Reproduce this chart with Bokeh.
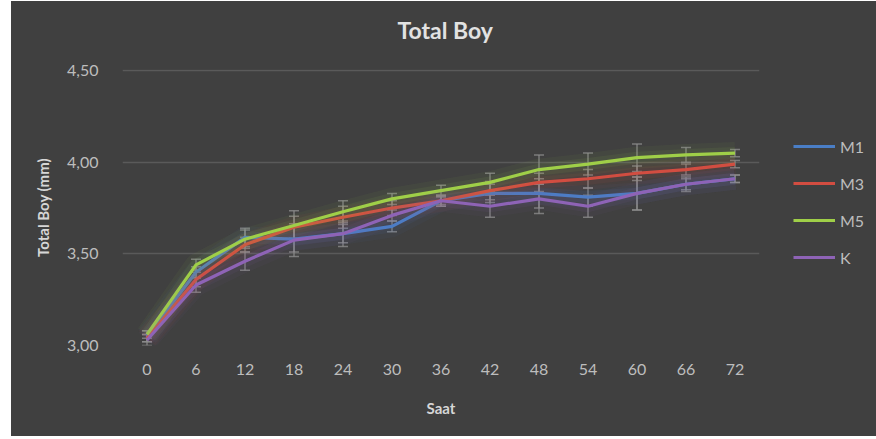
from bokeh.plotting import figure
from bokeh.models import (FactorRange, Range1d, ColumnDataSource, Whisker, TeeHead,
                          Legend, LegendItem, FixedTicker, CustomJSTickFormatter, Title)
from bokeh.embed import file_html
from bokeh.resources import INLINE

hours = ["0", "6", "12", "18", "24", "30", "36", "42", "48", "54", "60", "66", "72"]
series_names = ["M1", "M3", "M5", "K"]
m1 = [3.05, 3.40, 3.59, 3.58, 3.61, 3.65, 3.79, 3.83, 3.83, 3.81, 3.83, 3.88, 3.91]
m3 = [3.04, 3.36, 3.55, 3.645, 3.70, 3.75, 3.79, 3.845, 3.89, 3.91, 3.94, 3.96, 3.99]
m5 = [3.06, 3.44, 3.58, 3.655, 3.73, 3.80, 3.845, 3.89, 3.96, 3.99, 4.025, 4.04, 4.05]
k = [3.03, 3.33, 3.46, 3.575, 3.61, 3.71, 3.79, 3.76, 3.80, 3.76, 3.83, 3.88, 3.91]
m1_err = [0.03, 0.03, 0.05, 0.07, 0.05, 0.03, 0.03, 0.05, 0.08, 0.05, 0.09, 0.03, 0.02]
m3_err = [0.02, 0.04, 0.04, 0.06, 0.06, 0.04, 0.02, 0.05, 0.05, 0.05, 0.04, 0.03, 0.02]
m5_err = [0.02, 0.03, 0.05, 0.08, 0.06, 0.03, 0.03, 0.05, 0.08, 0.06, 0.075, 0.04, 0.02]
k_err = [0.03, 0.04, 0.05, 0.09, 0.07, 0.03, 0.03, 0.06, 0.08, 0.06, 0.09, 0.04, 0.02]
y_ticks = [3.0, 3.5, 4.0, 4.5]

values = [m1, m3, m5, k]
errors = [m1_err, m3_err, m5_err, k_err]
colors = ["#4a7ec6", "#d24d41", "#9fcf48", "#8e63b6"]

BG = "#404040"
FONT = "Lato"

p = figure(frame_width=637, frame_height=276,
           x_range=FactorRange(factors=hours, range_padding=0),
           y_range=Range1d(3.0, 4.506), output_backend="svg", toolbar_location=None,
           background_fill_color=None, border_fill_color=None, outline_line_color=None,
           min_border_left=111, min_border_right=117, min_border_top=68, min_border_bottom=91)
p.margin = (1, 0, 0, 11)
p.styles = {"background-color": BG}

spacer = Title(text=" ", text_font=FONT, text_font_size="12px", standoff=4)
p.add_layout(spacer, "above")
title = Title(text="Total Boy", align="left", text_font=FONT, text_font_size="23px",
              text_font_style="bold", text_color="#e2e2e2", offset=275, standoff=10)
p.add_layout(title, "above")

p.xaxis.axis_label = "Saat"
p.yaxis.axis_label = "Total Boy (mm)"
for ax in (p.xaxis[0], p.yaxis[0]):
    ax.axis_line_color = None
    ax.major_tick_line_color = None
    ax.minor_tick_line_color = None
    ax.major_label_text_font = FONT
    ax.major_label_text_font_size = "16px"
    ax.major_label_text_color = "#bdbdbd"
    ax.axis_label_text_font = FONT
    ax.axis_label_text_font_size = "15px"
    ax.axis_label_text_font_style = "bold"
    ax.axis_label_text_color = "#d6d6d6"
p.xaxis.major_label_standoff = 12
p.xaxis.axis_label_standoff = 21
p.yaxis.major_label_standoff = 18
p.yaxis.axis_label_standoff = 12
p.yaxis.ticker = FixedTicker(ticks=y_ticks)
p.yaxis.formatter = CustomJSTickFormatter(code="return tick.toFixed(2).replace('.', ',');")

p.xgrid.grid_line_color = None
p.ygrid.ticker = FixedTicker(ticks=[t for t in y_ticks if t > y_ticks[0]])
p.ygrid.grid_line_color = "#5a5a5a"
p.ygrid.grid_line_width = 1.5

items = []
for name, vals, errs, col in zip(series_names, values, errors, colors):
    src = ColumnDataSource(dict(x=hours, y=vals,
                                upper=[v + e for v, e in zip(vals, errs)],
                                lower=[v - e for v, e in zip(vals, errs)]))
    p.line("x", "y", source=src, line_color=col, line_width=22, line_alpha=0.05)
    p.line("x", "y", source=src, line_color=col, line_width=12, line_alpha=0.08)
    r = p.line("x", "y", source=src, line_color=col, line_width=3.2)
    items.append((name, r, src))

for name, r, src in items:
    w = Whisker(base="x", upper="upper", lower="lower", source=src,
                line_color="#8f8f8f", line_alpha=0.75, line_width=1.5,
                upper_head=TeeHead(size=10, line_color="#8f8f8f", line_alpha=0.75, line_width=1.5),
                lower_head=TeeHead(size=10, line_color="#8f8f8f", line_alpha=0.75, line_width=1.5))
    p.add_layout(w)

legend = Legend(items=[LegendItem(label=n, renderers=[r]) for n, r, s in items],
                location=(34, 78), orientation="vertical",
                background_fill_alpha=0, border_line_color=None,
                label_text_font=FONT, label_text_font_size="16px", label_text_color="#bdbdbd",
                glyph_width=42, glyph_height=20, spacing=17, padding=0, margin=0,
                label_standoff=5)
p.add_layout(legend, "right")

open("out.html", "w").write(file_html(p, INLINE))
